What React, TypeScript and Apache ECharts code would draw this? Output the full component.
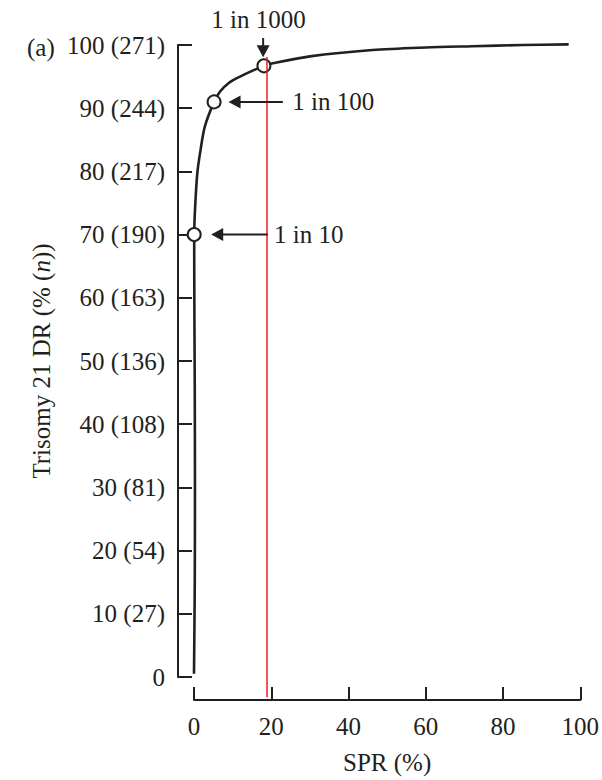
import React, { useEffect, useRef } from 'react';
import * as echarts from 'echarts';

// ROC curve: screen-positive rate (%) vs trisomy 21 detection rate (%)
const curveSpr = [0, 0.2, 0.25, 0.2, 0.1, 0.05, 0.3, 0.85, 1.7, 2.8, 5.2, 6.7, 9.0, 11.9, 18.1, 20.4, 30, 46.2, 60, 72, 85, 97];
const curveDr = [0.5, 15, 30, 45, 58, 70, 74.4, 79.7, 83.4, 87.1, 91.0, 92.6, 94.0, 95.0, 96.7, 97.1, 98.2, 99.2, 99.6, 99.8, 100, 100.1];

// Risk cut-offs marked on the curve
const cutoffLabels = ['1 in 10', '1 in 100', '1 in 1000'];
const cutoffSpr = [0.05, 5.2, 18.1];
const cutoffDr = [70, 91.0, 96.7];

// Vertical reference line (SPR %)
const referenceSpr = 18.9;
const referenceDrRange = [-3.2, 98.1];

const xTickValues = [0, 20, 40, 60, 80, 100];
const yTickValues = [0, 10, 20, 30, 40, 50, 60, 70, 80, 90, 100];
const yTickLabels = ['0', '10 (27)', '20 (54)', '30 (81)', '40 (108)', '50 (136)', '60 (163)', '70 (190)', '80 (217)', '90 (244)', '100 (271)'];

// Annotation arrows (data units): shaft start, arrow head centre, head rotation, text anchor
const arrowFrom = [[19.1, 70], [23.0, 91.0], [17.9, 101.1]];
const arrowHead = [[6.0, 70], [10.5, 91.0], [17.9, 99.0]];
const arrowRotate = [90, 90, 180];
const arrowText = [[20.6, 70], [25.3, 91.0], [16.7, 104.1]];
const arrowTextPos = ['right', 'right', 'inside'];

const INK = '#231f20';
const FONT = "'Liberation Serif', 'DejaVu Serif', serif";
const FS = 25;

export default function App() {
  const ref = useRef<HTMLDivElement>(null);

  useEffect(() => {
    if (!ref.current) return;
    const chart = echarts.init(ref.current, null, { renderer: 'svg' });

    const series: any[] = [];

    series.push({
      type: 'line',
      data: curveSpr.map((x, i) => [x, curveDr[i]]),
      smooth: 0.3,
      symbol: 'none',
      lineStyle: { color: INK, width: 2.6 },
      clip: false,
      z: 2,
    });

    series.push({
      type: 'scatter',
      data: cutoffSpr.map((x, i) => [x, cutoffDr[i]]),
      symbol: 'circle',
      symbolSize: 13,
      itemStyle: { color: '#ffffff', borderColor: INK, borderWidth: 2, opacity: 1 },
      clip: false,
      z: 3,
    });

    series.push({
      type: 'line',
      data: referenceDrRange.map((y) => [referenceSpr, y]),
      symbol: 'none',
      lineStyle: { color: '#ee1c25', width: 1.5 },
      clip: false,
      z: 4,
    });

    arrowFrom.forEach((from, i) => {
      series.push({
        type: 'line',
        data: [from, arrowHead[i]],
        symbol: 'none',
        lineStyle: { color: INK, width: 2 },
        clip: false,
        z: 5,
      });
    });

    series.push({
      type: 'scatter',
      data: arrowHead.map((p, i) => ({ value: p, symbolRotate: arrowRotate[i] })),
      symbol: 'triangle',
      symbolSize: [13, 12],
      itemStyle: { color: INK, opacity: 1 },
      clip: false,
      z: 5,
    });

    series.push({
      type: 'scatter',
      data: arrowText.map((p, i) => ({
        value: p,
        label: {
          show: true,
          position: arrowTextPos[i],
          distance: 0,
          formatter: cutoffLabels[i],
          color: INK,
          fontFamily: FONT,
          fontSize: FS,
        },
      })),
      symbolSize: 1,
      itemStyle: { color: '#ffffff', opacity: 1 },
      clip: false,
      z: 6,
    });

    chart.setOption({
      animation: false,
      textStyle: { fontFamily: FONT },
      grid: { left: 194, right: 20, top: 45, bottom: 103 },
      graphic: [
        {
          type: 'text',
          left: 27,
          top: 35,
          style: { text: '(a)', fill: INK, font: `${FS}px ${FONT}` },
        },
      ],
      xAxis: {
        type: 'value',
        min: 0,
        max: 100,
        interval: 20,
        offset: 23,
        name: 'SPR (%)',
        nameLocation: 'middle',
        nameGap: 50,
        nameTextStyle: { color: INK, fontSize: FS, fontFamily: FONT },
        axisLine: { show: true, onZero: false, lineStyle: { color: INK, width: 2 } },
        axisTick: { show: true, inside: true, length: 13, lineStyle: { color: INK, width: 2 } },
        axisLabel: {
          color: INK,
          fontSize: FS,
          fontFamily: FONT,
          margin: 14,
          formatter: (v: number) => (xTickValues.includes(v) ? String(v) : ''),
        },
        splitLine: { show: false },
      },
      yAxis: {
        type: 'value',
        min: 0,
        max: 100,
        interval: 10,
        offset: 16,
        name: '{a|Trisomy 21 DR (% (}{i|n}{a|))}',
        nameLocation: 'middle',
        nameGap: 124,
        nameTextStyle: {
          color: INK,
          fontSize: FS,
          fontFamily: FONT,
          rich: {
            a: { color: INK, fontSize: FS, fontFamily: FONT },
            i: { color: INK, fontSize: FS, fontFamily: FONT, fontStyle: 'italic' },
          },
        },
        axisLine: { show: true, onZero: false, lineStyle: { color: INK, width: 2 } },
        axisTick: { show: true, inside: true, length: 14, lineStyle: { color: INK, width: 2 } },
        axisLabel: {
          color: INK,
          fontSize: FS,
          fontFamily: FONT,
          margin: 13,
          formatter: (v: number) => {
            const idx = yTickValues.indexOf(v);
            return idx >= 0 ? yTickLabels[idx] : '';
          },
        },
        splitLine: { show: false },
      },
      series,
    });

    return () => chart.dispose();
  }, []);

  return (
    <div
      ref={ref}
      style={{ position: 'fixed', left: 0, top: 0, width: 602, height: 780, background: '#ffffff' }}
    />
  );
}
